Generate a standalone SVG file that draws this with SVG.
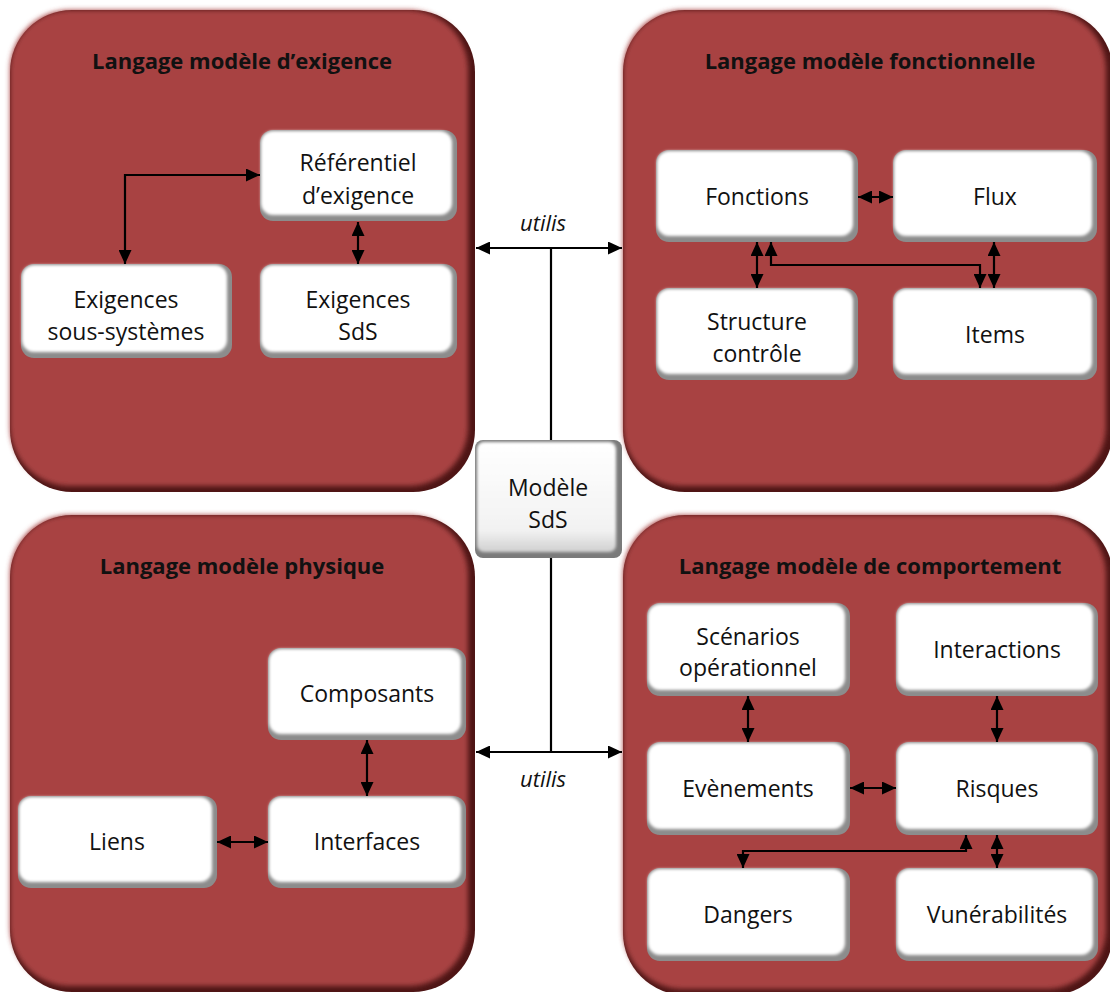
<svg xmlns="http://www.w3.org/2000/svg" width="1110" height="992" viewBox="0 0 1110 992">
<defs>
<style>
.pb{fill:#4e1515}
.pf{fill:#a84242}
.nb{fill:#8c8c8c}
.nf{fill:#ffffff}
.t{font-family:"Open Sans","Liberation Sans",sans-serif;font-size:23px;fill:#111;text-anchor:middle}
.h{font-family:"Open Sans","Liberation Sans",sans-serif;font-size:22px;font-weight:bold;fill:#111;text-anchor:middle}
.u{font-family:"Open Sans","Liberation Sans",sans-serif;font-size:22px;font-style:italic;fill:#111;text-anchor:middle}
.c{fill:none;stroke:#000;stroke-width:2.2}
.a{marker-start:url(#ah);marker-end:url(#ah)}
</style>
<filter id="bl" x="-5%" y="-5%" width="110%" height="110%"><feGaussianBlur stdDeviation="1.6"/></filter>
<filter id="pbl" x="-5%" y="-5%" width="110%" height="110%"><feGaussianBlur stdDeviation="2.5"/></filter>
<linearGradient id="mg" x1="0" y1="0" x2="0" y2="1"><stop offset="0" stop-color="#ffffff"/><stop offset="0.8" stop-color="#f2f2f2"/><stop offset="1" stop-color="#d0d0d0"/></linearGradient>
<marker id="ah" viewBox="0 0 14 13" refX="14" refY="6.5" markerWidth="14" markerHeight="13" markerUnits="userSpaceOnUse" orient="auto-start-reverse"><path d="M0,0 L14,6.5 L0,13 z" fill="#000"/></marker>
</defs>

<g id="panel-exigence">
<rect class="pb" x="10" y="10" width="465" height="482" rx="62"/>
<rect class="pf" x="10" y="10" width="458" height="476" rx="60" filter="url(#pbl)"/>
<text class="h" x="242" y="69">Langage modèle d’exigence</text>
</g>
<g id="panel-fonctionnelle">
<rect class="pb" x="623" y="10" width="490" height="482" rx="62"/>
<rect class="pf" x="623" y="10" width="483" height="476" rx="60" filter="url(#pbl)"/>
<text class="h" x="870" y="69">Langage modèle fonctionnelle</text>
</g>
<g id="panel-physique">
<rect class="pb" x="10" y="515" width="465" height="477" rx="62"/>
<rect class="pf" x="10" y="515" width="458" height="471" rx="60" filter="url(#pbl)"/>
<text class="h" x="242" y="574">Langage modèle physique</text>
</g>
<g id="panel-comportement">
<rect class="pb" x="623" y="515" width="490" height="480" rx="62"/>
<rect class="pf" x="623" y="515" width="483" height="474" rx="60" filter="url(#pbl)"/>
<text class="h" x="870" y="574">Langage modèle de comportement</text>
</g>

<g id="n-referentiel"><rect class="nb" x="260" y="130" width="197" height="91" rx="13"/><rect class="nf" x="261" y="131" width="191" height="84" rx="12" filter="url(#bl)"/><text class="t" x="358" y="171">Référentiel</text><text class="t" x="358" y="204">d’exigence</text></g>
<g id="n-exig-ss"><rect class="nb" x="21" y="264" width="211" height="94" rx="13"/><rect class="nf" x="22" y="265" width="205" height="87" rx="12" filter="url(#bl)"/><text class="t" x="126" y="308">Exigences</text><text class="t" x="126" y="340">sous-systèmes</text></g>
<g id="n-exig-sds"><rect class="nb" x="260" y="264" width="197" height="94" rx="13"/><rect class="nf" x="261" y="265" width="191" height="87" rx="12" filter="url(#bl)"/><text class="t" x="358" y="308">Exigences</text><text class="t" x="358" y="340">SdS</text></g>

<g id="n-fonctions"><rect class="nb" x="656" y="150" width="202" height="92" rx="13"/><rect class="nf" x="657" y="151" width="196" height="85" rx="12" filter="url(#bl)"/><text class="t" x="757" y="205">Fonctions</text></g>
<g id="n-flux"><rect class="nb" x="893" y="150" width="204" height="92" rx="13"/><rect class="nf" x="894" y="151" width="198" height="85" rx="12" filter="url(#bl)"/><text class="t" x="995" y="205">Flux</text></g>
<g id="n-structure"><rect class="nb" x="656" y="288" width="202" height="92" rx="13"/><rect class="nf" x="657" y="289" width="196" height="85" rx="12" filter="url(#bl)"/><text class="t" x="757" y="330">Structure</text><text class="t" x="757" y="362">contrôle</text></g>
<g id="n-items"><rect class="nb" x="893" y="288" width="204" height="92" rx="13"/><rect class="nf" x="894" y="289" width="198" height="85" rx="12" filter="url(#bl)"/><text class="t" x="995" y="343">Items</text></g>

<g id="n-modele"><rect fill="#7a7a7a" x="475" y="440" width="147" height="118" rx="8"/><rect fill="url(#mg)" x="477" y="442" width="139" height="110" rx="7" filter="url(#bl)"/><text class="t" x="548" y="496">Modèle</text><text class="t" x="548" y="528">SdS</text></g>

<g id="n-composants"><rect class="nb" x="268" y="648" width="198" height="92" rx="13"/><rect class="nf" x="269" y="649" width="192" height="85" rx="12" filter="url(#bl)"/><text class="t" x="367" y="702">Composants</text></g>
<g id="n-liens"><rect class="nb" x="18" y="796" width="199" height="92" rx="13"/><rect class="nf" x="19" y="797" width="193" height="85" rx="12" filter="url(#bl)"/><text class="t" x="117" y="850">Liens</text></g>
<g id="n-interfaces"><rect class="nb" x="268" y="796" width="198" height="92" rx="13"/><rect class="nf" x="269" y="797" width="192" height="85" rx="12" filter="url(#bl)"/><text class="t" x="367" y="850">Interfaces</text></g>

<g id="n-scenarios"><rect class="nb" x="647" y="603" width="203" height="93" rx="13"/><rect class="nf" x="648" y="604" width="197" height="86" rx="12" filter="url(#bl)"/><text class="t" x="748" y="645">Scénarios</text><text class="t" x="748" y="676">opérationnel</text></g>
<g id="n-interactions"><rect class="nb" x="896" y="603" width="202" height="93" rx="13"/><rect class="nf" x="897" y="604" width="196" height="86" rx="12" filter="url(#bl)"/><text class="t" x="997" y="658">Interactions</text></g>
<g id="n-evenements"><rect class="nb" x="647" y="742" width="203" height="93" rx="13"/><rect class="nf" x="648" y="743" width="197" height="86" rx="12" filter="url(#bl)"/><text class="t" x="748" y="797">Evènements</text></g>
<g id="n-risques"><rect class="nb" x="896" y="742" width="202" height="93" rx="13"/><rect class="nf" x="897" y="743" width="196" height="86" rx="12" filter="url(#bl)"/><text class="t" x="997" y="797">Risques</text></g>
<g id="n-dangers"><rect class="nb" x="647" y="868" width="203" height="93" rx="13"/><rect class="nf" x="648" y="869" width="197" height="86" rx="12" filter="url(#bl)"/><text class="t" x="748" y="923">Dangers</text></g>
<g id="n-vulnerabilites"><rect class="nb" x="896" y="868" width="202" height="93" rx="13"/><rect class="nf" x="897" y="869" width="196" height="86" rx="12" filter="url(#bl)"/><text class="t" x="997" y="923">Vunérabilités</text></g>

<g id="connectors">
<path class="c a" d="M125,264 V175 H260"/>
<path class="c a" d="M358,222 V264"/>
<path class="c a" d="M476,248 H622"/>
<path class="c a" d="M476,752 H622"/>
<path class="c" d="M551,248 V440 M551,558 V752"/>
<text class="u" x="543" y="231">utilis</text>
<text class="u" x="543" y="787">utilis</text>
<path class="c a" d="M858,197 H893"/>
<path class="c a" d="M757,242 V288"/>
<path class="c a" d="M771,242 V265 H980 V288"/>
<path class="c a" d="M994,242 V288"/>
<path class="c a" d="M367,740 V796"/>
<path class="c a" d="M217,842 H268"/>
<path class="c a" d="M748,696 V742"/>
<path class="c a" d="M997,696 V742"/>
<path class="c a" d="M850,788 H896"/>
<path class="c a" d="M966,835 V851 H743 V868"/>
<path class="c a" d="M997,835 V868"/>
</g>
</svg>
